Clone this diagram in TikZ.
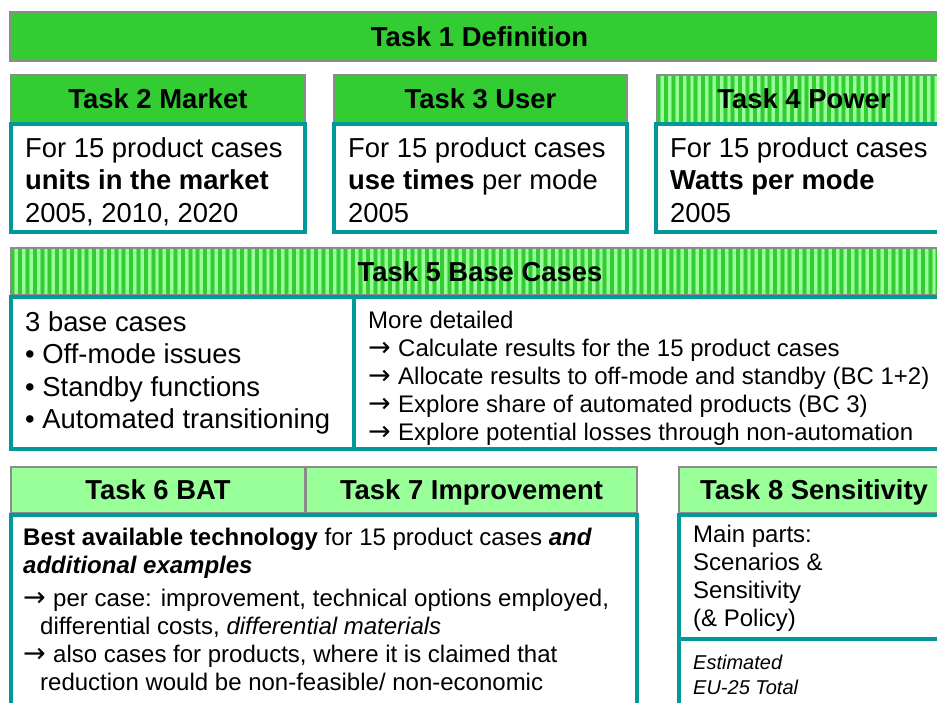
\documentclass[tikz,border=0pt]{standalone}
\usepackage{fontspec}
\setmainfont{Liberation Sans}
\newfontfamily\arrfont{DejaVu Sans}
\definecolor{dgreen}{HTML}{33CC33}
\definecolor{lgreen}{HTML}{99FF99}
\definecolor{mgreen}{HTML}{66E666}
\definecolor{tealb}{HTML}{009999}
\definecolor{hgray}{HTML}{8C8C8C}
\newcommand{\arr}{\makebox[30pt][l]{\arrfont\fontsize{27}{28}\selectfont →}}
\newcommand{\bx}[7]{\node[#2, minimum width={#5-#3}, minimum height={#6-#4}] (#1) at ({(#3+#5)/2},{(#4+#6)/2}) {#7};}
\tikzset{
  hdr/.style={draw=hgray, line width=1.3pt, rectangle, inner sep=0pt,
    font=\fontsize{27.4}{32}\selectfont\bfseries, text height=19.6pt, text depth=0pt},
  solidhdr/.style={hdr, fill=dgreen},
  palehdr/.style={hdr, fill=lgreen},
  stripehdr/.style={hdr, fill=lgreen, path picture={
      \foreach \k in {0,...,130}{
        \fill[mgreen] ([xshift=\k*7.4pt-0.6pt]path picture bounding box.south west) rectangle ++(4.6pt,60pt);
        \fill[dgreen] ([xshift=\k*7.4pt]path picture bounding box.south west) rectangle ++(3.4pt,60pt);}}},
  bodybox/.style={draw=tealb, line width=3.5pt, rectangle, inner sep=0pt},
  big/.style={anchor=base west, inner sep=0pt, font=\fontsize{27.4}{32}\selectfont},
  med/.style={anchor=base west, inner sep=0pt, font=\fontsize{24}{28}\selectfont},
  small/.style={anchor=base west, inner sep=0pt, font=\fontsize{20}{24}\selectfont\itshape},
}
\begin{document}
\begin{tikzpicture}[x=1pt,y=-1pt]
\useasboundingbox (0,0) rectangle (937,702);
\clip (0,0) rectangle (937,702);
\fill[white] (0,0) rectangle (937,702);
% headers
\bx{t1}{solidhdr}{10}{12}{949}{61}{Task 1 Definition}
\bx{t2}{solidhdr}{11}{75}{305}{123}{Task 2 Market}
\bx{t3}{solidhdr}{334}{75}{627}{123}{Task 3 User}
\bx{t4}{stripehdr}{657}{75}{951}{123}{Task 4 Power}
\bx{t5}{stripehdr}{11}{248}{949}{295}{Task 5 Base Cases}
\bx{t6}{palehdr}{11}{467}{305}{513}{Task 6 BAT}
\bx{t7}{palehdr}{306}{467}{637}{513}{Task 7 Improvement}
\bx{t8}{palehdr}{679}{467}{949}{513}{Task 8 Sensitivity}
% bodies
\bx{b2}{bodybox}{11}{124}{305}{232}{}
\bx{b3}{bodybox}{334}{124}{627}{232}{}
\bx{b4}{bodybox}{656}{124}{960}{232}{}
\bx{b5l}{bodybox}{11}{297}{354}{449}{}
\bx{b5r}{bodybox}{354}{297}{960}{449}{}
\bx{b67}{bodybox}{11}{515}{637}{720}{}
\bx{b8a}{bodybox}{679}{515}{960}{639}{}
\bx{b8b}{bodybox}{679}{639}{960}{720}{}
% task 2 text
\node[big] (a1) at (25,157) {For 15 product cases};
\node[big] (a2) at (25,189.5) {\textbf{units in the market}};
\node[big] (a3) at (25,222) {2005, 2010, 2020};
% task 3 text
\node[big] (c1) at (348,157) {For 15 product cases};
\node[big] (c2) at (348,189.5) {\textbf{use times} per mode};
\node[big] (c3) at (348,222) {2005};
% task 4 text
\node[big] (d1) at (670,157) {For 15 product cases};
\node[big] (d2) at (670,189.5) {\textbf{Watts per mode}};
\node[big] (d3) at (670,222) {2005};
% task 5 left
\node[big] (e1) at (25,331) {3 base cases};
\node[big] (e2) at (25,363.5) {• Off-mode issues};
\node[big] (e3) at (25,396) {• Standby functions};
\node[big] (e4) at (25,428.5) {• Automated transitioning};
% task 5 right
\node[med] (f1) at (368,328) {More detailed};
\node[med] (f2) at (368,356) {\arr Calculate results for the 15 product cases};
\node[med] (f3) at (368,384) {\arr Allocate results to off-mode and standby (BC 1+2)};
\node[med] (f4) at (368,412) {\arr Explore share of automated products (BC 3)};
\node[med] (f5) at (368,440) {\arr Explore potential losses through non-automation};
% task 6/7 body
\node[med] (g1) at (23,545) {\textbf{Best available technology} for 15 product cases \textbf{\textit{and}}};
\node[med] (g2) at (23,573) {\textbf{\textit{additional examples}}};
\node[med] (g3) at (23,606) {\arr per case: improvement, technical options employed,};
\node[med] (g4) at (40,634) {differential costs, \textit{differential materials}};
\node[med] (g5) at (23,662) {\arr also cases for products, where it is claimed that};
\node[med] (g6) at (40,690) {reduction would be non-feasible/ non-economic};
% task 8
\node[med] (h1) at (693,542) {Main parts:};
\node[med] (h2) at (693,570) {Scenarios \&};
\node[med] (h3) at (693,598) {Sensitivity};
\node[med] (h4) at (693,626) {(\& Policy)};
\node[small] (h5) at (693,669) {Estimated};
\node[small] (h6) at (693,694) {EU-25 Total};
\end{tikzpicture}
\end{document}
